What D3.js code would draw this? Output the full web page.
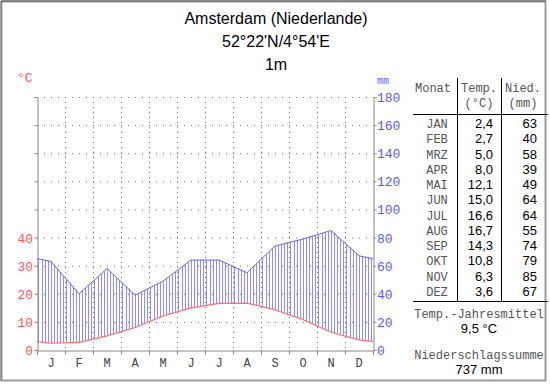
<!DOCTYPE html>
<html>
<head>
<meta charset="utf-8">
<title>Klimadiagramm Amsterdam</title>
<style>
  html, body { margin: 0; padding: 0; background: #fff; }
  svg { display: block; }
  .mono { font-family: "Liberation Mono", "Courier New", monospace; }
  .sans { font-family: "Liberation Sans", Arial, sans-serif; }
</style>
</head>
<body>
<svg id="chart" width="550" height="384"></svg>
<script src="https://cdn.jsdelivr.net/npm/d3@7/dist/d3.min.js"></script>
<script>
// Klimadaten Amsterdam
const months = ["J", "F", "M", "A", "M", "J", "J", "A", "S", "O", "N", "D"];
const monthNames = ["JAN", "FEB", "MRZ", "APR", "MAI", "JUN", "JUL", "AUG", "SEP", "OKT", "NOV", "DEZ"];
const temp = [2.4, 2.7, 5.0, 8.0, 12.1, 15.0, 16.6, 16.7, 14.3, 10.8, 6.3, 3.6];
const precip = [63, 40, 58, 39, 49, 64, 64, 55, 74, 79, 85, 67];
const tempTicks = [0, 10, 20, 30, 40];
const precipTicks = [0, 20, 40, 60, 80, 100, 120, 140, 160, 180];
const titleLines = ["Amsterdam (Niederlande)", "52°22'N/4°54'E", "1m"];
const yearTemp = "9,5 °C";
const yearPrecip = "737 mm";

const svg = d3.select("#chart");
const plotLeft = 37, plotRight = 373, plotTop = 97, plotBottom = 350;

// x: Monatsgrenzen 0..12
const x = d3.scaleLinear().domain([0, 12]).range([plotLeft, plotRight]);
const yP = d3.scaleLinear().domain([0, 180]).range([plotBottom, plotTop]);
const yT = d3.scaleLinear().domain([0, 90]).range([plotBottom, plotTop]);

// Rahmen
svg.append("rect").attr("x", 1.5).attr("y", 1.5).attr("width", 544).attr("height", 379)
  .attr("fill", "none").attr("stroke", "#999").attr("stroke-width", 2);
svg.append("path").attr("d", "M1,1H546").attr("stroke", "#555").attr("stroke-width", 1);
svg.append("path").attr("d", "M1,1V381").attr("stroke", "#777").attr("stroke-width", 1);

// Titel
svg.selectAll(".title").data(titleLines).enter().append("text")
  .attr("class", "sans")
  .attr("x", 276).attr("y", (d, i) => 24 + i * 23)
  .attr("text-anchor", "middle")
  .style("font-size", "16px").attr("fill", "#000")
  .text(d => d);

// Gitter
svg.selectAll(".hgrid").data(precipTicks.slice(1)).enter().append("line")
  .attr("x1", plotLeft).attr("x2", plotRight)
  .attr("y1", d => yP(d) + 0.5).attr("y2", d => yP(d) + 0.5)
  .attr("stroke", "#777").attr("stroke-dasharray", "1,6");
svg.selectAll(".vgrid").data(d3.range(1, 12)).enter().append("line")
  .attr("x1", d => x(d) + 0.5).attr("x2", d => x(d) + 0.5)
  .attr("y1", plotTop).attr("y2", plotBottom)
  .attr("stroke", "#777").attr("stroke-dasharray", "1,4");

// Werte an Monatsmitten, Ränder aus Dez/Jan gemittelt
const pos = [0].concat(d3.range(12).map(i => i + 0.5), [12]);
const tVals = [(temp[0] + temp[11]) / 2].concat(temp, [(temp[0] + temp[11]) / 2]);
const pVals = [(precip[0] + precip[11]) / 2].concat(precip, [(precip[0] + precip[11]) / 2]);
const tAt = d3.scaleLinear().domain(pos).range(tVals);
const pAt = d3.scaleLinear().domain(pos).range(pVals);

// Schraffur (humid)
const hatch = d3.range(0.05, 12, 1 / 9);
svg.selectAll(".hatch").data(hatch).enter().append("line")
  .attr("x1", d => Math.round(x(d)) + 0.5).attr("x2", d => Math.round(x(d)) + 0.5)
  .attr("y1", d => yT(tAt(d))).attr("y2", d => yP(pAt(d)))
  .attr("stroke", "#8c8cff").attr("stroke-width", 1);

const pts = pos.map((p, i) => ({ p: p, t: tVals[i], n: pVals[i] }));
svg.append("path").datum(pts)
  .attr("d", d3.line().x(d => x(d.p)).y(d => yP(d.n)))
  .attr("fill", "none").attr("stroke", "#6464ff").attr("stroke-width", 1);
svg.append("path").datum(pts)
  .attr("d", d3.line().x(d => x(d.p)).y(d => yT(d.t)))
  .attr("fill", "none").attr("stroke", "#ff7070").attr("stroke-width", 1.2);

// Achsen
const axisColor = "#888";
const gl = svg.append("g").attr("transform", `translate(${plotLeft + 0.5},0)`)
  .call(d3.axisLeft(yP).tickValues(precipTicks).tickSize(3).tickFormat(""));
const gr = svg.append("g").attr("transform", `translate(${plotRight + 0.5},0)`)
  .call(d3.axisRight(yP).tickValues(precipTicks).tickSize(3).tickFormat(""));
const gb = svg.append("g").attr("transform", `translate(0,${plotBottom + 0.5})`)
  .call(d3.axisBottom(x).tickValues(d3.range(13)).tickSize(4).tickFormat(""));
[gl, gr, gb].forEach(g => {
  g.select(".domain").attr("stroke", axisColor);
  g.selectAll(".tick line").attr("stroke", axisColor);
});

svg.selectAll(".tlab").data(tempTicks).enter().append("text")
  .attr("class", "mono").attr("x", 33).attr("y", d => yT(d) + 5)
  .attr("text-anchor", "end").style("font-size", "13px").attr("fill", "#ff5a5a")
  .text(d => d);
svg.selectAll(".plab").data(precipTicks).enter().append("text")
  .attr("class", "mono").attr("x", 377).attr("y", d => yP(d) + 5)
  .style("font-size", "13px").attr("fill", "#5a5aff")
  .text(d => d);
svg.append("text").attr("class", "mono").attr("x", 17).attr("y", 82)
  .style("font-size", "13px").attr("fill", "#ff5a5a").text("°C");
svg.append("text").attr("class", "mono").attr("x", 377).attr("y", 84)
  .style("font-size", "10px").attr("fill", "#5a5aff").text("mm");
svg.selectAll(".mlab").data(months).enter().append("text")
  .attr("class", "mono").attr("x", (d, i) => x(i + 0.5)).attr("y", 367)
  .attr("text-anchor", "middle").style("font-size", "12px").attr("fill", "#444")
  .text(d => d);

// Tabelle
const tab = svg.append("g");
const line = (x1, y1, x2, y2) => tab.append("line")
  .attr("x1", x1).attr("y1", y1).attr("x2", x2).attr("y2", y2)
  .attr("stroke", "#000").attr("stroke-width", 1);
line(457.5, 78, 457.5, 301);
line(501.5, 78, 501.5, 301);
line(413, 114.5, 548, 114.5);
line(413, 301.5, 548, 301.5);

const mono12 = (t, xx, yy, anchor) => tab.append("text").attr("class", "mono")
  .attr("x", xx).attr("y", yy).attr("text-anchor", anchor || "middle")
  .style("font-size", "12px").attr("fill", "#555").text(t);
mono12("Monat", 433, 92);
mono12("Temp.", 479, 92);
mono12("(°C)", 479, 107);
mono12("Nied.", 523, 92);
mono12("(mm)", 523, 107);

const rowY = i => 128 + i * 15.25;
tab.selectAll(".mn").data(monthNames).enter().append("text")
  .attr("class", "mono").attr("x", 437).attr("y", (d, i) => rowY(i))
  .attr("text-anchor", "middle").style("font-size", "12px").attr("fill", "#555")
  .text(d => d);
tab.selectAll(".tv").data(temp).enter().append("text")
  .attr("class", "sans").attr("x", 493).attr("y", (d, i) => rowY(i))
  .attr("text-anchor", "end").style("font-size", "13px").attr("fill", "#000")
  .text(d => d.toFixed(1).replace(".", ","));
tab.selectAll(".pv").data(precip).enter().append("text")
  .attr("class", "sans").attr("x", 537).attr("y", (d, i) => rowY(i))
  .attr("text-anchor", "end").style("font-size", "13px").attr("fill", "#000")
  .text(d => d);

mono12("Temp.-Jahresmittel", 479, 318);
tab.append("text").attr("class", "sans").attr("x", 479).attr("y", 333)
  .attr("text-anchor", "middle").style("font-size", "13px").text(yearTemp);
mono12("Niederschlagssumme", 479, 359);
tab.append("text").attr("class", "sans").attr("x", 479).attr("y", 374)
  .attr("text-anchor", "middle").style("font-size", "13px").text(yearPrecip);
</script>
</body>
</html>
